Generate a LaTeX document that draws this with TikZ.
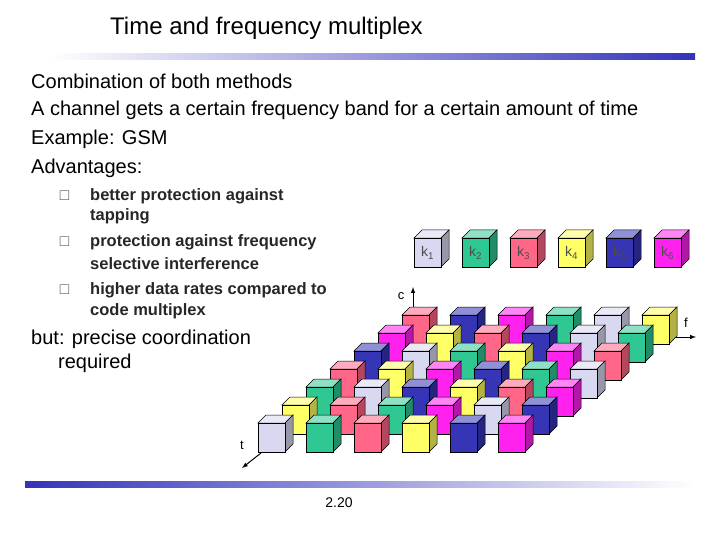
\documentclass[tikz,border=0pt]{standalone}
\usepackage{fontspec}
\setmainfont{Liberation Sans}
\usepackage{amssymb}
\definecolor{ka}{HTML}{D8D8F0}
\definecolor{kb}{HTML}{2FC893}
\definecolor{kc}{HTML}{FF6688}
\definecolor{kd}{HTML}{FFFF66}
\definecolor{ke}{HTML}{3535B5}
\definecolor{kf}{HTML}{FF22EE}
\definecolor{barblue}{HTML}{3333BB}
\newcommand\mycube[3]{%
  \fill[#3!55!white,draw=black,line width=0.5pt] (#1,#2) -- (#1+8,#2-8) -- (#1+35,#2-8) -- (#1+27,#2) -- cycle;
  \fill[#3!70!black,draw=black,line width=0.5pt] (#1+27,#2) -- (#1+35,#2-8) -- (#1+35,#2+21) -- (#1+27,#2+29) -- cycle;
  \fill[#3,draw=black,line width=0.5pt] (#1,#2) rectangle (#1+27,#2+29);}
\begin{document}
\begin{tikzpicture}[x=1pt,y=-1pt,
  body/.style={anchor=west,font=\fontsize{20}{24}\selectfont,inner sep=0pt},
  bul/.style={anchor=west,font=\fontsize{16.5}{19}\selectfont\bfseries,inner sep=0pt,text=black!85},
  ax/.style={-latex,line width=1pt},
  axl/.style={font=\fontsize{13}{15}\selectfont,inner sep=0pt}]
\useasboundingbox (0,0) rectangle (720,540);
\node[anchor=west,font=\fontsize{24}{28}\selectfont,inner sep=0pt] (title) at (110,28) {Time and frequency multiplex};
\shade[left color=white,right color=barblue] (50,54) rectangle (695,60);
\shade[left color=barblue,right color=white] (25,481) rectangle (695,487);
\node[body] (l1) at (31,81) {Combination of both methods};
\node[body] (l2) at (31,110) {A channel gets a certain frequency band for a certain amount of time};
\node[body] (l3) at (31,139) {Example: GSM};
\node[body] (l4) at (31,168) {Advantages:};
\foreach \yy/\name in {196/b1,242/b2,290/b3}
  \node[anchor=west,inner sep=0pt,font=\fontsize{14}{16}\selectfont,text=black!70] (\name) at (59,\yy) {$\square$};
\node[bul] (t1) at (90,196) {better protection against};
\node[bul] (t2) at (90,216) {tapping};
\node[bul] (t3) at (90,242) {protection against frequency};
\node[bul] (t4) at (90,264) {selective interference};
\node[bul] (t5) at (90,290) {higher data rates compared to};
\node[bul] (t6) at (90,311) {code multiplex};
\node[body] (p1) at (31,339) {but: precise coordination};
\node[body] (p2) at (58,363) {required};
\node[font=\fontsize{14}{16}\selectfont] (pg) at (339,503) {2.20};
% axes
\coordinate (o) at (261,453);
\coordinate (te) at (242,468);
\draw[ax] (o) -- (te);
\node[axl] (tl) at (242,445) {t};
\coordinate (cs) at (413,308);
\coordinate (ce) at (413,287);
\draw[ax] (cs) -- (ce);
\node[axl] (cl) at (401,296) {c};
\coordinate (fs) at (676,337);
\coordinate (fe) at (696,337);
\draw[ax] (fs) -- (fe);
\node[axl] (fl) at (686,323) {f};
% grid, back rows first
\foreach \r/\row in {6/{kc,ke,kf,kb,ka,kd},5/{kf,kd,kc,ke,ka,kb},4/{ke,ka,kb,kd,kf,kc},3/{kc,kd,kf,ke,kb,ka},2/{kb,ka,ke,kd,kc,kf},1/{kd,kc,kb,kf,ka,ke},0/{ka,kb,kc,kd,ke,kf}}{
  \foreach \col [count=\c from 0] in \row {
    \pgfmathsetmacro\xx{258+48*\c+24*\r}
    \pgfmathsetmacro\yy{423-18*\r}
    \mycube{\xx}{\yy}{\col}
  }
}
% legend
\foreach \col [count=\i] in {ka,kb,kc,kd,ke,kf}{
  \pgfmathsetmacro\xx{414+48*(\i-1)}
  \mycube{\xx}{238}{\col}
  \node[font=\fontsize{14}{16}\selectfont,text=black!70] (k\i) at (\xx+13.5,253) {k\textsubscript{\i}};
}
\end{tikzpicture}
\end{document}
